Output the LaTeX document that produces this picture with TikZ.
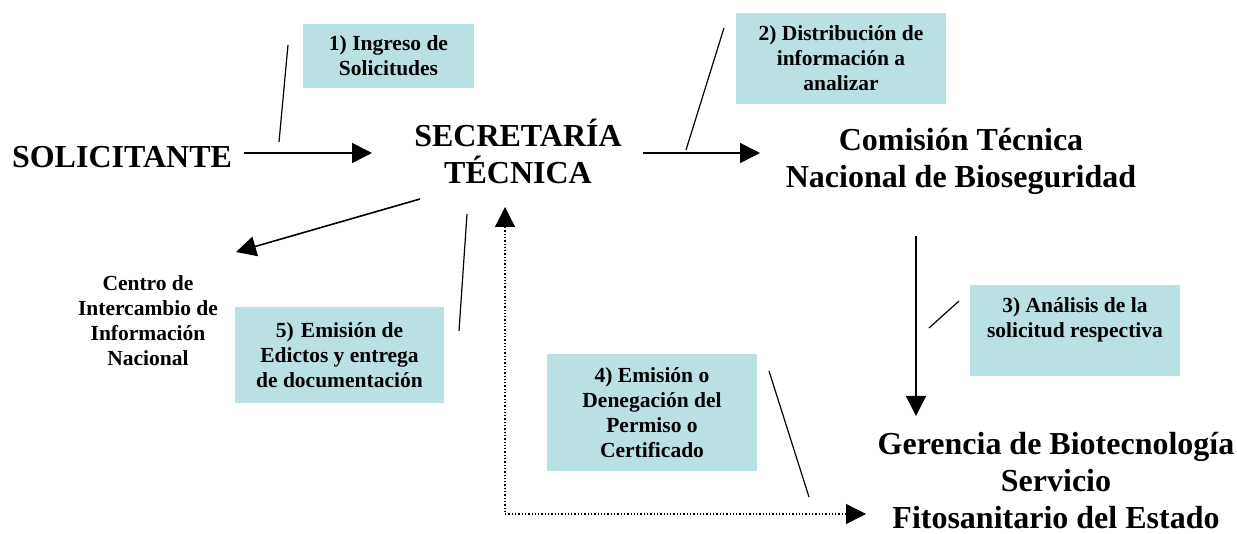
\documentclass[tikz,border=0pt]{standalone}
\usepackage{fontspec}
\setmainfont{Liberation Serif}
\usetikzlibrary{arrows.meta}
\definecolor{boxcyan}{RGB}{185,224,227}
\tikzset{
  big/.style={font=\fontsize{32}{37}\selectfont\bfseries, align=center, inner sep=0pt},
  small/.style={font=\fontsize{21.5}{25}\selectfont\bfseries, align=center, inner sep=0pt},
  stepbox/.style={small, fill=boxcyan},
  arr/.style={line width=1.6pt, -{Triangle[length=20pt,width=20pt]}},
  lead/.style={line width=1.2pt},
  dotarr/.style={line width=1.3pt, dotted, {Triangle[length=20pt,width=20pt]}-{Triangle[length=20pt,width=20pt]}}
}
\begin{document}
\begin{tikzpicture}[x=1pt,y=-1pt]
\useasboundingbox (0,0) rectangle (1237,534);
% main nodes
\node[big] (sol) at (122,157) {SOLICITANTE};
\node[big] (sec) at (518,151) {SECRETARÍA\\TÉCNICA};
\node[big] (com) at (961,161) {Comisión Técnica\\Nacional de Bioseguridad};
\node[big] (ger) at (1056,481) {Gerencia de Biotecnología\\Servicio\\Fitosanitario del Estado};
\node[small] (cen) at (148,321) {Centro de\\Intercambio de\\Información\\Nacional};
% step boxes
\node[stepbox, minimum width=171pt, minimum height=64pt] (b1) at (388.5,56) {1) Ingreso de\\Solicitudes};
\node[stepbox, minimum width=210pt, minimum height=91pt] (b2) at (841,58.5) {2) Distribución de\\información a\\analizar};
\node[stepbox, minimum width=210pt, minimum height=91pt] (b3) at (1075,330.5) {3) Análisis de la\\solicitud respectiva\\\mbox{}};
\node[stepbox, minimum width=210pt, minimum height=117pt] (b4) at (652,412.5) {4) Emisión o\\Denegación del\\Permiso o\\Certificado};
\node[stepbox, minimum width=209pt, minimum height=96pt] (b5) at (339.5,355) {5)\,\,Emisión de\\Edictos y entrega\\de documentación};
% arrows
\draw[arr] ([shift={(122,-4)}]sol.center) -- ([shift={(-146,2)}]sec.center);
\draw[arr] ([shift={(125,2)}]sec.center) -- ([shift={(-201,-8)}]com.center);
\draw[arr] ([shift={(-45,75)}]com.center) -- ([shift={(-140,-65)}]ger.center);
\draw[arr] ([shift={(-98,48)}]sec.center) -- ([shift={(88,-69)}]cen.center);
\draw[dotarr] ([shift={(-190,33)}]ger.center) -| ([shift={(-13,56)}]sec.center);
% leader lines
\draw[lead] ([shift={(-100.5,-11)}]b1.center) -- ([shift={(-109.5,86)}]b1.center);
\draw[lead] ([shift={(-117,-30.5)}]b2.center) -- ([shift={(-155,91.5)}]b2.center);
\draw[lead] ([shift={(-116,-29.5)}]b3.center) -- ([shift={(-146,-2.5)}]b3.center);
\draw[lead] ([shift={(117,-41.5)}]b4.center) -- ([shift={(157,84.5)}]b4.center);
\draw[lead] ([shift={(127.5,-141)}]b5.center) -- ([shift={(119.5,-24)}]b5.center);
\end{tikzpicture}
\end{document}
